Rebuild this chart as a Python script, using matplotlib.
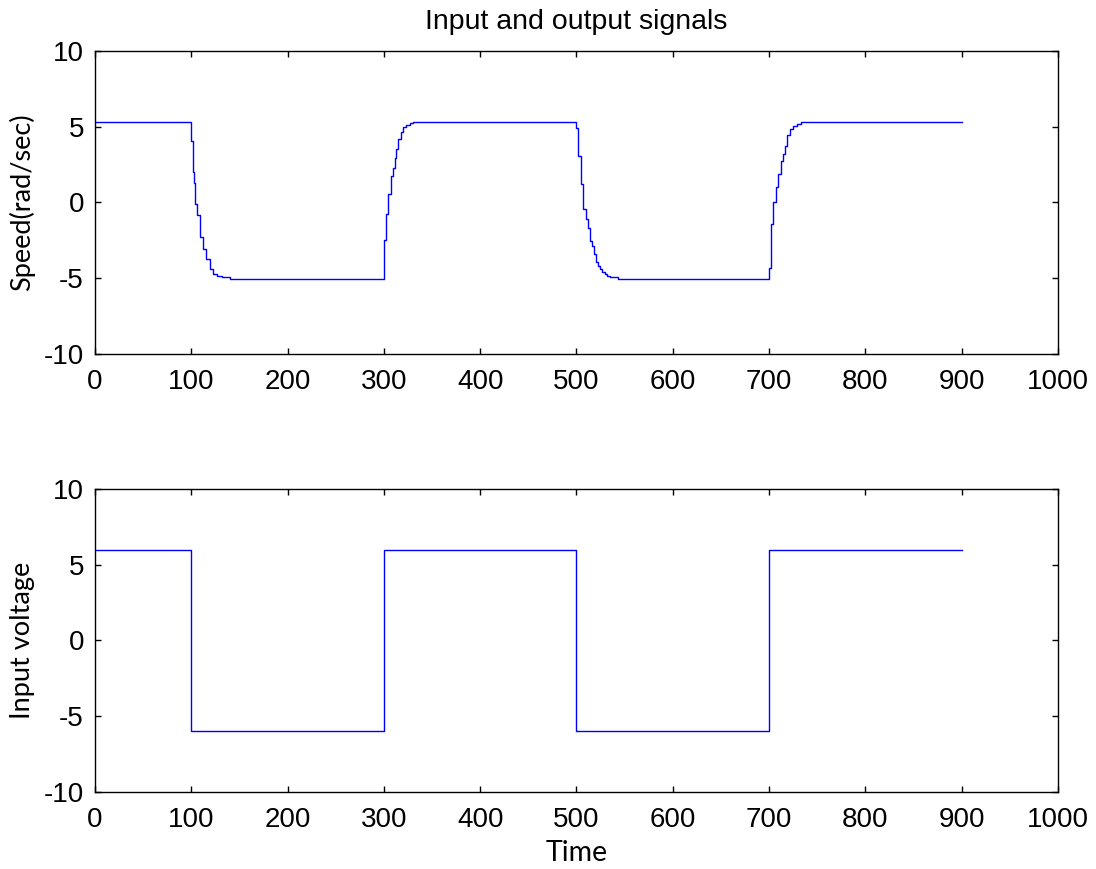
import matplotlib.pyplot as plt

speed_t = [0, 100, 102, 103, 104, 106, 108.5, 109.5, 112, 115.5, 119, 123, 126.5, 131.5, 140.5,
           300.5, 302.5, 304.5, 307.5, 309.5, 311.5, 313, 315, 317.5, 320, 323, 327, 330.5,
           500, 502, 505, 507, 509.5, 511.5, 514, 516, 518.5, 520.5, 522.5, 524.5, 526.5, 529.5,
           532, 535, 543,
           700, 702.5, 704.5, 707, 709.5, 712, 714, 716.5, 719, 721.5, 725, 728.5, 733, 900]
speed_v = [5.35, 4.07, 2.0, 1.3, -0.13, -0.84, -1.54, -2.3, -3.1, -3.75, -4.41, -4.74, -4.85, -4.95, -5.07,
           -2.47, -0.73, 0.59, 1.76, 2.31, 2.91, 3.52, 4.18, 4.63, 4.96, 5.11, 5.24, 5.35,
           4.95, 3.08, 1.21, -0.4, -1.1, -1.72, -2.54, -2.87, -3.42, -3.93, -4.19, -4.41, -4.59, -4.74,
           -4.85, -4.9, -5.07,
           -4.36, -1.43, 0.0, 1.03, 1.87, 2.75, 3.19, 3.74, 4.45, 4.84, 5.06, 5.22, 5.35, 5.35]

# input voltage (square wave)
volt_t = [0, 100, 300, 500, 700, 900]
volt_v = [6, -6, 6, -6, 6, 6]

xticks = [0, 100, 200, 300, 400, 500, 600, 700, 800, 900, 1000]
yticks = [-10, -5, 0, 5, 10]

plt.rcParams['font.family'] = ['Liberation Sans', 'DejaVu Sans']
plt.rcParams['axes.unicode_minus'] = False

fig = plt.figure(figsize=(10.96, 8.69), dpi=100)
ax1 = fig.add_axes([0.0867, 0.593, 0.8786, 0.348])
ax2 = fig.add_axes([0.0867, 0.089, 0.8786, 0.348])


def style(ax):
    ax.set_xlim(0, 1000)
    ax.set_ylim(-10, 10)
    ax.set_xticks(xticks)
    ax.set_yticks(yticks)
    ax.tick_params(direction='in', top=True, right=True, length=4, width=1,
                   labelsize=20)
    ax.tick_params(axis='x', pad=11)
    ax.tick_params(axis='y', pad=8)
    for s in ax.spines.values():
        s.set_linewidth(1)


ax1.plot(speed_t, speed_v, color='#0000ff', lw=1, drawstyle='steps-post')
style(ax1)
ax1.set_ylabel('Speed(rad/sec)', family='Lato', fontsize=19.5, labelpad=6)
ax1.set_title('Input and output signals', fontsize=20.5, pad=16)

ax2.plot(volt_t, volt_v, color='#0000ff', lw=1, drawstyle='steps-post')
style(ax2)
ax2.set_ylabel('Input voltage', family='Lato', fontsize=19.5, labelpad=6)
ax2.set_xlabel('Time', family='Lato', fontsize=20.5, labelpad=5)

fig.savefig('out.png', dpi=100)
